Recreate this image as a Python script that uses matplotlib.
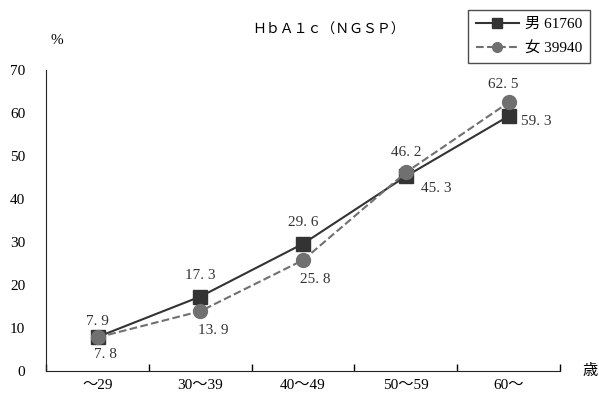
import matplotlib.pyplot as plt
import numpy as np

ages = ['～29', '30～39', '40～49', '50～59', '60～']
male = [7.9, 17.3, 29.6, 45.3, 59.3]
female = [7.8, 13.9, 25.8, 46.2, 62.5]
male_label = '男 61760'
female_label = '女 39940'

# label offsets in points (dx, dy) for each data point
male_off = [(0, 11), (0, 15), (0, 15), (22, -9), (20, -4)]
female_off = [(6, -12), (9, -14), (9, -14), (0, 14), (-4, 13)]

plt.rcParams['font.family'] = ['Liberation Serif', 'Noto Sans CJK JP']

fig = plt.figure(figsize=(5.99, 4.01), dpi=100)
ax = fig.add_axes([0.077, 0.075, 0.858, 0.75])

x = np.arange(len(ages))
ax.plot(x, male, '-s', color='#333333', lw=1.5, ms=10, label=male_label)
ax.plot(x, female, '--o', color='#707070', lw=1.5, ms=10, label=female_label)

for xi, v, (dx, dy) in zip(x, male, male_off):
    ax.annotate(f'{v:.1f}'.replace('.', '. '), (xi, v), xytext=(dx, dy),
                textcoords='offset points', ha='center', va='center', fontsize=11, color='#333333')
for xi, v, (dx, dy) in zip(x, female, female_off):
    ax.annotate(f'{v:.1f}'.replace('.', '. '), (xi, v), xytext=(dx, dy),
                textcoords='offset points', ha='center', va='center', fontsize=11, color='#333333')

ax.set_xlim(-0.5, len(ages) - 0.5)
ax.set_ylim(0, 70)
ax.set_yticks(range(0, 71, 10))
ax.set_xticks(x)
ax.set_xticklabels(ages)
ax.set_xticks(np.arange(-0.5, len(ages), 1), minor=True)
ax.tick_params(axis='x', which='major', length=0, pad=6, labelsize=11)
ax.tick_params(axis='x', which='minor', direction='in', length=5, width=1)
ax.tick_params(axis='y', length=0, pad=15, labelsize=11)

for s in ['top', 'right']:
    ax.spines[s].set_visible(False)
ax.spines['left'].set_color('#222222')
ax.spines['bottom'].set_color('#222222')

fig.text(0.095, 0.9, '%', fontsize=11, ha='center', va='center')
fig.text(0.985, 0.075, '歳', fontsize=11, ha='center', va='center')
fig.text(0.548, 0.925, 'ＨｂＡ１ｃ（ＮＧＳＰ）', fontsize=10, ha='center', va='center')

leg = fig.legend(loc='upper right', bbox_to_anchor=(0.997, 0.995), fontsize=11,
                 frameon=True, fancybox=False, edgecolor='#222222', handlelength=2.8,
                 markerscale=0.7, borderpad=0.5, labelspacing=0.7, handletextpad=0.4)
leg.get_frame().set_linewidth(1)

fig.savefig('out.png', dpi=100)
